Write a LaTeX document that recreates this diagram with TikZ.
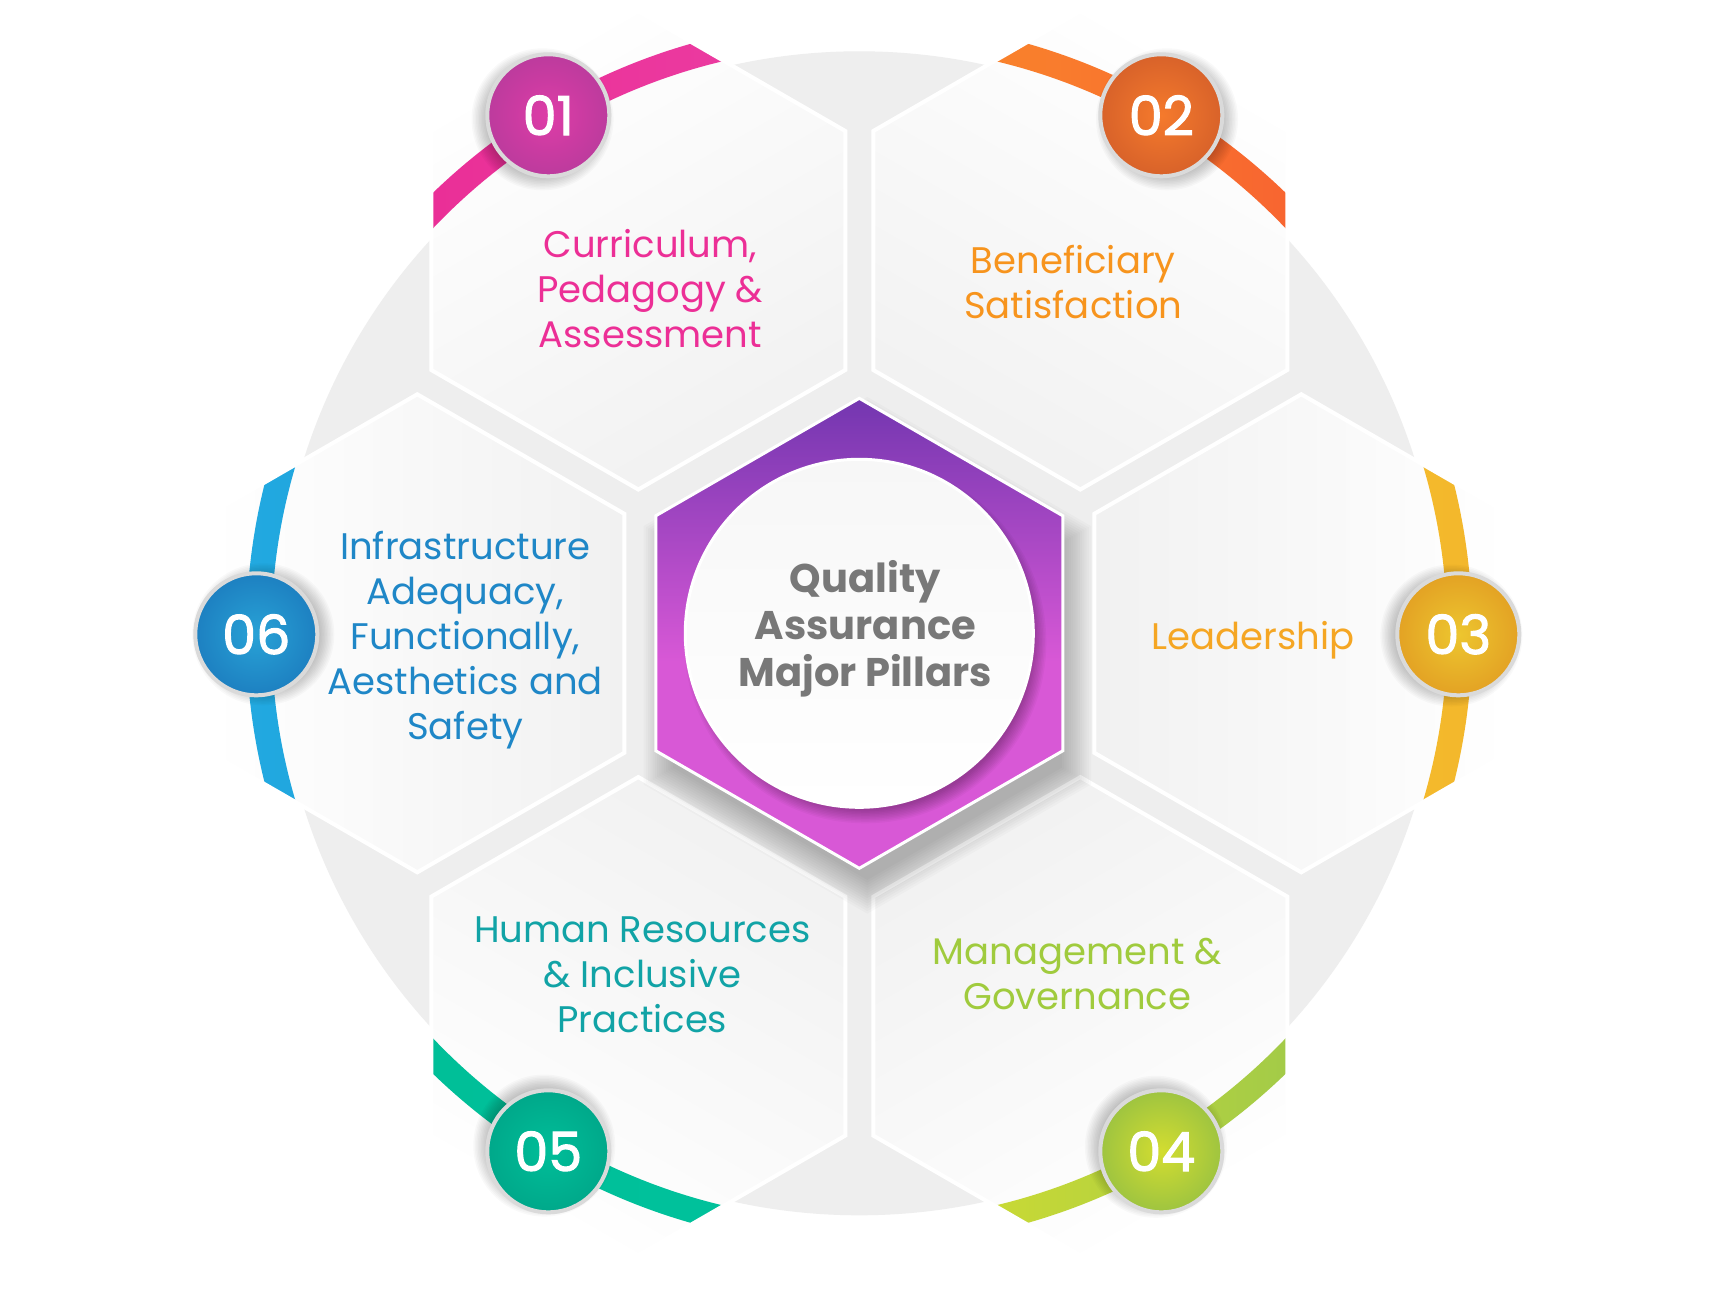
\documentclass[tikz,border=0pt]{standalone}
\usepackage{fontspec}
\setmainfont{Poppins}
\newfontfamily\numfont[FakeBold=2]{Poppins}
\usetikzlibrary{shapes.geometric}

% palette
\definecolor{bggrey}{HTML}{EEEEEE}
\definecolor{hexgrey}{HTML}{F1F1F1}
\definecolor{cpurple}{HTML}{7336B0}
\definecolor{cpink}{HTML}{D858D6}
\definecolor{discrim}{HTML}{DADADA}
\definecolor{titlegrey}{HTML}{787878}
\definecolor{corefill}{HTML}{F7F7F7}

\definecolor{r1a}{HTML}{EA2F97}\definecolor{r1b}{HTML}{EC3EA3}
\definecolor{r2a}{HTML}{FA8E2A}\definecolor{r2b}{HTML}{F86530}
\definecolor{r3a}{HTML}{F6CB31}\definecolor{r3b}{HTML}{F3B52B}
\definecolor{r4a}{HTML}{D8DF2D}\definecolor{r4b}{HTML}{A3CB48}
\definecolor{r5a}{HTML}{00BF98}\definecolor{r5b}{HTML}{00C29D}
\definecolor{r6a}{HTML}{22ABE2}\definecolor{r6b}{HTML}{1E96D2}

\definecolor{c1in}{HTML}{DE3CA7}\definecolor{c1out}{HTML}{BC3B9D}
\definecolor{c2in}{HTML}{F57A2C}\definecolor{c2out}{HTML}{D8622A}
\definecolor{c3in}{HTML}{EDC62F}\definecolor{c3out}{HTML}{E3A224}
\definecolor{c4in}{HTML}{D3DD30}\definecolor{c4out}{HTML}{9EC440}
\definecolor{c5in}{HTML}{00BE99}\definecolor{c5out}{HTML}{00A88A}
\definecolor{c6in}{HTML}{28A2D6}\definecolor{c6out}{HTML}{1D80C1}

\definecolor{t1}{HTML}{EC2F96}
\definecolor{t2}{HTML}{F7941D}
\definecolor{t3}{HTML}{F5A623}
\definecolor{t4}{HTML}{A0CB3D}
\definecolor{t5}{HTML}{11A3A6}
\definecolor{t6}{HTML}{1F87C7}

\pgfdeclareverticalshading{centergrad}{100bp}{color(0bp)=(cpink); color(25bp)=(cpink); color(47bp)=(cpink); color(75bp)=(cpurple); color(100bp)=(cpurple)}

\tikzset{
  outerhex/.style={regular polygon, regular polygon sides=6, shape border rotate=30,
    minimum size=478pt, inner sep=0pt, outer sep=0pt, draw=white, line width=4pt,
    top color=white, middle color=white, bottom color=hexgrey},
  corehex/.style={regular polygon, regular polygon sides=6, shape border rotate=30,
    minimum size=470pt, inner sep=0pt, outer sep=0pt, draw=white, line width=3pt,
    shade, shading=centergrad},
  corecircle/.style={circle, minimum size=348pt, inner sep=0pt, draw=white,
    line width=3pt, top color=corefill, bottom color=white},
  numdisc/.style 2 args={circle, minimum size=122pt, inner sep=0pt, draw=discrim,
    line width=4pt, inner color=#1, outer color=#2, text=white,
    font=\numfont\fontsize{54}{54}\selectfont},
  pillar/.style={align=center, text=#1, font=\fontsize{37}{45}\selectfont},
  coretitle/.style={align=center, text=titlegrey, font=\bfseries\fontsize{40}{47}\selectfont},
}

\begin{document}
\begin{tikzpicture}[x=1pt,y=1pt]
\useasboundingbox (-859.3,-667.7) rectangle (874.7,633.3);
\fill[white] (-859.3,-667.7) rectangle (874.7,633.3);
\coordinate (O) at (0,0);

% grey backdrop disc
\fill[bggrey] (O) circle[radius=582];

% six outer hexagons, each carrying its piece of the coloured ring
\foreach \a/\i/\ra/\rb in {120/1/r1a/r1b, 60/2/r2a/r2b, 0/3/r3a/r3b,
                           -60/4/r4a/r4b, -120/5/r5a/r5b, 180/6/r6a/r6b}{
  \pgfmathsetmacro\sa{\a-90}
  \node[outerhex, shading angle=\sa,
        path picture={
          \begin{scope}[even odd rule]
            \clip (O) circle[radius=613] (O) circle[radius=588];
            \shade[left color=\ra, right color=\rb]
              (path picture bounding box.south west) rectangle (path picture bounding box.north east);
          \end{scope}
        }] (h\i) at (\a:442) {};
}

% soft shadow under the central hexagon
\foreach \k [evaluate=\k as \r using 222+2.6*\k] in {1,...,14}{
  \fill[black, opacity=0.02, shift={(8,-22)}]
    (30:\r) -- (90:\r) -- (150:\r) -- (210:\r) -- (270:\r) -- (330:\r) -- cycle;
}
\node[corehex] (core) at (O) {};

% shadow of the white disc on the purple hexagon
\foreach \k in {1,...,10}{
  \fill[black, opacity=0.03] (6,-9) circle[radius=166+1.5*\k];
}
\node[corecircle] (disc) at (O) {};
\node[coretitle] (title) at (6,5) {Quality\\Assurance\\Major Pillars};

% pillar labels
\node[pillar=t1] (l1) at (-209,345) {Curriculum,\\Pedagogy \&\\Assessment};
\node[pillar=t2] (l2) at (214,351) {Beneficiary\\Satisfaction};
\node[pillar=t3, anchor=base] (l3) at (394,-16) {Leadership};
\node[pillar=t4] (l4) at (218,-341) {Management \&\\Governance};
\node[pillar=t5] (l5) at (-217,-341) {Human Resources\\\& Inclusive\\Practices};
\node[pillar=t6] (l6) at (-394,-7) {Infrastructure\\Adequacy,\\Functionally,\\Aesthetics and\\Safety};

% badge positions on the ring
\coordinate (p1) at (-311,518);
\coordinate (p2) at (302,518);
\coordinate (p3) at (599,-1);
\coordinate (p4) at (302,-518);
\coordinate (p5) at (-311,-518);
\coordinate (p6) at (-603,-1);

% number badges with soft shadows
\foreach \i/\d in {1/215, 2/-35, 3/190, 4/140, 5/125, 6/0}{
  \foreach \k in {1,...,10}{
    \fill[black, opacity=0.022] ([shift={(\d:7)}]p\i) circle[radius=56+1.5*\k];
  }
}
\node[numdisc={c1in}{c1out}] (n1) at (p1) {01};
\node[numdisc={c2in}{c2out}] (n2) at (p2) {02};
\node[numdisc={c3in}{c3out}] (n3) at (p3) {03};
\node[numdisc={c4in}{c4out}] (n4) at (p4) {04};
\node[numdisc={c5in}{c5out}] (n5) at (p5) {05};
\node[numdisc={c6in}{c6out}] (n6) at (p6) {06};
\end{tikzpicture}
\end{document}
